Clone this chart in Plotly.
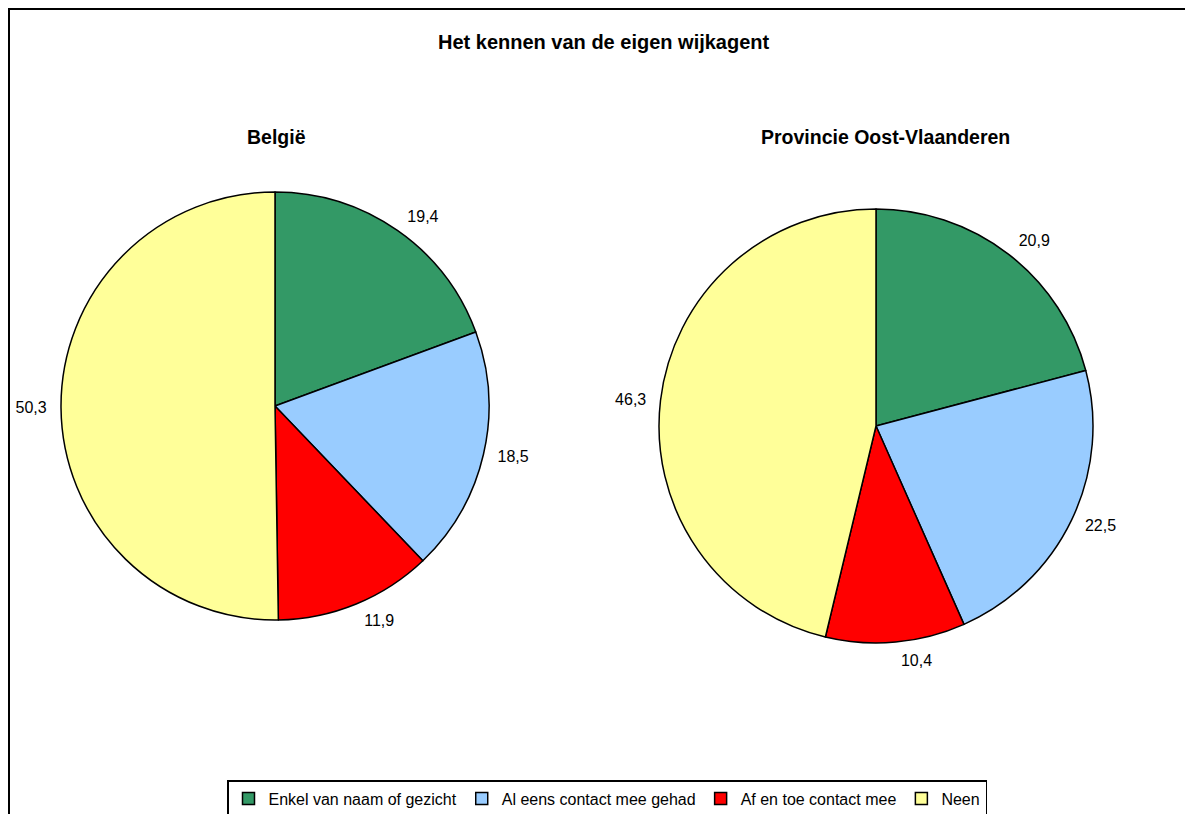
import plotly.graph_objects as go

categories = ["Enkel van naam of gezicht", "Al eens contact mee gehad", "Af en toe contact mee", "Neen"]
belgie = [19.4, 18.5, 11.9, 50.3]
oost_vlaanderen = [20.9, 22.5, 10.4, 46.3]
colors = ["#339966", "#99CCFF", "#FF0000", "#FFFF99"]
labels_belgie = ["19,4", "18,5", "11,9", "50,3"]
labels_ov = ["20,9", "22,5", "10,4", "46,3"]

W, H = 1193, 814
OFF = 8  # page body margin
FONT = "Liberation Sans, Arial, sans-serif"
LABEL_PAD = 10  # extra distance of the value labels from the pie edge

def px(x):
    return (x - OFF) / W

def py(y):
    return 1 - (y - OFF) / H

fig = go.Figure()

pies = [
    (belgie, labels_belgie, (61, 489, 192, 620), True),
    (oost_vlaanderen, labels_ov, (659, 1093, 209, 643), False),
]

for values, texts, (x0, x1, y0, y1), legend in pies:
    # visible pie
    fig.add_trace(go.Pie(
        labels=categories, values=values,
        sort=False, direction="clockwise", rotation=0,
        marker=dict(colors=colors, line=dict(color="black", width=1.5)),
        textinfo="none",
        domain=dict(x=[px(x0), px(x1)], y=[py(y1), py(y0)]),
        hoverinfo="skip", showlegend=legend,
    ))
    # transparent, slightly larger pie carrying the value labels
    fig.add_trace(go.Pie(
        labels=categories, values=values, text=texts,
        sort=False, direction="clockwise", rotation=0,
        marker=dict(colors=["rgba(0,0,0,0)"] * len(values), line=dict(width=0)),
        textinfo="text", textposition="outside",
        textfont=dict(family=FONT, size=16, color="black"),
        domain=dict(x=[px(x0 - LABEL_PAD), px(x1 + LABEL_PAD)],
                    y=[py(y1 + LABEL_PAD), py(y0 - LABEL_PAD)]),
        hoverinfo="skip", showlegend=False,
    ))

fig.update_layout(
    width=W, height=H,
    margin=dict(l=0, r=0, t=0, b=0),
    paper_bgcolor="white", plot_bgcolor="white",
    font=dict(family=FONT, color="black"),
    legend=dict(
        orientation="h", x=px(607), xanchor="center", y=py(780), yanchor="top",
        bordercolor="black", borderwidth=1.5, bgcolor="white",
        font=dict(family=FONT, size=16, color="black"),
        itemwidth=30, tracegroupgap=0,
    ),
    shapes=[dict(
        type="rect", xref="paper", yref="paper",
        x0=px(9), x1=1.02, y0=-0.02, y1=py(9),
        line=dict(color="black", width=2), fillcolor="rgba(0,0,0,0)",
    )],
    annotations=[
        dict(text="<b>Het kennen van de eigen wijkagent</b>", x=px(604), y=py(42),
             xref="paper", yref="paper", showarrow=False, xanchor="center", yanchor="middle",
             font=dict(family=FONT, size=20, color="black")),
        dict(text="<b>België</b>", x=px(276), y=py(137),
             xref="paper", yref="paper", showarrow=False, xanchor="center", yanchor="middle",
             font=dict(family=FONT, size=19.5, color="black")),
        dict(text="<b>Provincie Oost-Vlaanderen</b>", x=px(885), y=py(137),
             xref="paper", yref="paper", showarrow=False, xanchor="center", yanchor="middle",
             font=dict(family=FONT, size=19.5, color="black")),
    ],
)

fig.write_html("out.html", config={"displayModeBar": False})
